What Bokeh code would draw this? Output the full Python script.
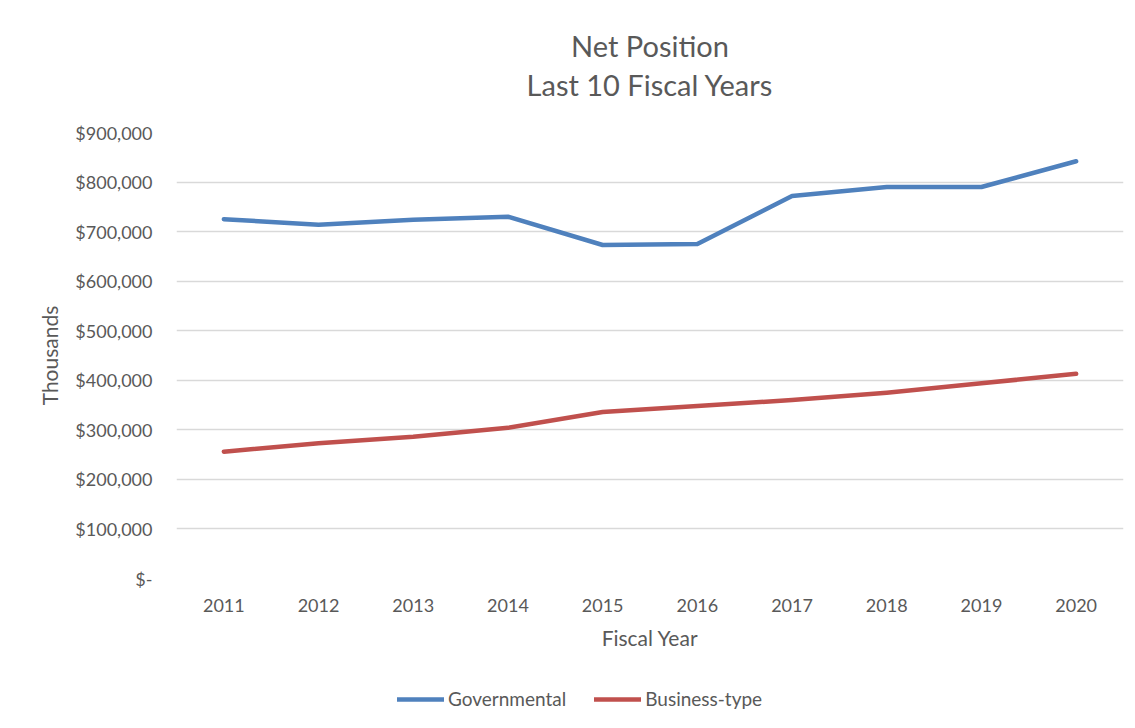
from bokeh.plotting import figure
from bokeh.layouts import column
from bokeh.models import (FactorRange, Range1d, FixedTicker, CustomJSTickFormatter,
                          Title, Legend, LegendItem, ColumnDataSource)
from bokeh.embed import file_html
from bokeh.resources import INLINE

title_lines = ["Net Position", "Last 10 Fiscal Years"]
years = ["2011", "2012", "2013", "2014", "2015", "2016", "2017", "2018", "2019", "2020"]
governmental = [725000, 714000, 724000, 730000, 673000, 675000, 772000, 790000, 790000, 842000]
business_type = [256000, 273000, 286000, 304000, 336000, 348000, 360000, 375000, 394000, 413000]
y_ticks = [0, 100000, 200000, 300000, 400000, 500000, 600000, 700000, 800000, 900000]

FONT = "Lato"
TXT = "#595959"
BLUE = "#4f81bd"
RED = "#c0504d"

src = ColumnDataSource(dict(year=years, gov=governmental, bus=business_type))

p = figure(width=1130, height=680, x_range=FactorRange(factors=years),
           y_range=Range1d(0, 900000), output_backend="svg", toolbar_location=None,
           min_border_left=176, min_border_right=7, min_border_top=132,
           min_border_bottom=102)
p.outline_line_color = None

# spacer between the title block and the plot area
p.add_layout(Title(text=" ", text_font_size="1px", standoff=28), "above")
p.add_layout(Title(text=title_lines[1], align="center", text_font=FONT,
                   text_font_size="29px", text_font_style="normal", text_color=TXT,
                   standoff=0), "above")
p.add_layout(Title(text=title_lines[0], align="center", text_font=FONT,
                   text_font_size="29px", text_font_style="normal", text_color=TXT,
                   standoff=4), "above")

p.line("year", "gov", source=src, line_color=BLUE, line_width=4.5,
       line_cap="round", line_join="round")
p.line("year", "bus", source=src, line_color=RED, line_width=4.5,
       line_cap="round", line_join="round")

p.xgrid.grid_line_color = None
p.ygrid.grid_line_color = "#d9d9d9"
p.ygrid.grid_line_width = 1.3
p.yaxis.ticker = FixedTicker(ticks=y_ticks)
p.yaxis.formatter = CustomJSTickFormatter(code="""
    if (tick == 0) { return '$-'; }
    return '$' + tick.toLocaleString('en-US');
""")
for ax in (p.xaxis, p.yaxis):
    ax.axis_line_color = None
    ax.major_tick_line_color = None
    ax.minor_tick_line_color = None
    ax.major_tick_out = 0
    ax.major_tick_in = 0
    ax.major_label_text_font = FONT
    ax.major_label_text_font_size = "18px"
    ax.major_label_text_color = TXT
    ax.axis_label_text_font = FONT
    ax.axis_label_text_font_size = "21px"
    ax.axis_label_text_font_style = "normal"
    ax.axis_label_text_color = TXT

p.yaxis.axis_label = "Thousands"
p.yaxis.major_label_standoff = 24
p.yaxis.axis_label_standoff = 10
p.xaxis.axis_label = "Fiscal Year"
p.xaxis.major_label_standoff = 20
p.xaxis.axis_label_standoff = 10

# legend strip below the chart
lg = figure(width=1130, height=40, x_range=FactorRange(factors=years),
            y_range=Range1d(-2, -1), output_backend="svg", toolbar_location=None,
            min_border_left=0, min_border_right=0, min_border_top=0, min_border_bottom=0)
lg.axis.visible = False
lg.grid.visible = False
lg.outline_line_color = None
l1 = lg.line("year", "gov", source=src, line_color=BLUE, line_width=4.5, line_cap="round")
l2 = lg.line("year", "bus", source=src, line_color=RED, line_width=4.5, line_cap="round")
legend = Legend(items=[LegendItem(label="Governmental", renderers=[l1]),
                       LegendItem(label="Business-type", renderers=[l2])],
                orientation="horizontal", location=(221, 10),
                label_text_font=FONT, label_text_font_size="19px", label_text_color=TXT,
                glyph_width=47, label_standoff=4, spacing=28, padding=0,
                border_line_color=None, background_fill_alpha=0, margin=0)
lg.add_layout(legend)

layout = column(p, lg, spacing=0)
open("out.html", "w").write(file_html(layout, INLINE))
